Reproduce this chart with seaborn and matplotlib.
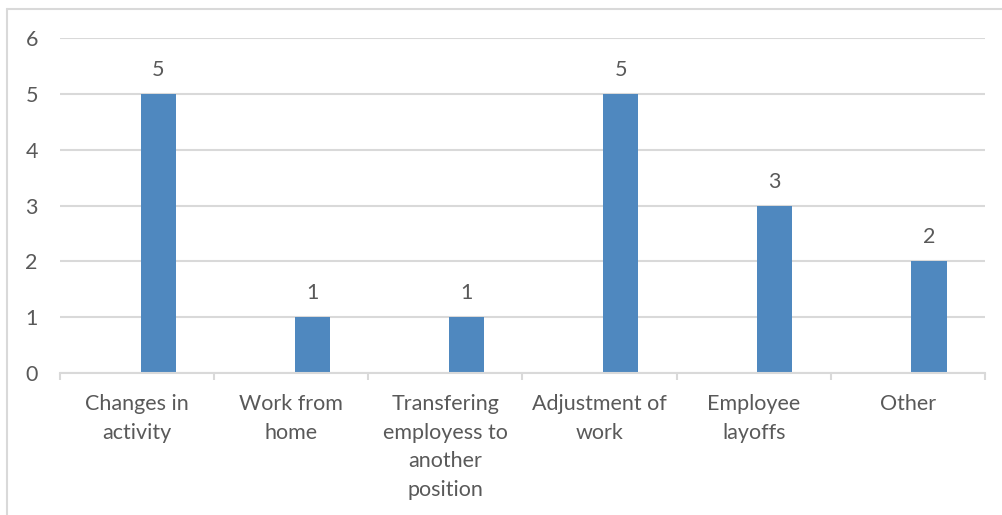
import numpy as np
import matplotlib
matplotlib.use('Agg')
import matplotlib.pyplot as plt
import seaborn as sns
from matplotlib.lines import Line2D

categories = ['Changes in\nactivity', 'Work from\nhome', 'Transfering\nemployess to\nanother\nposition',
              'Adjustment of\nwork', 'Employee\nlayoffs', 'Other']
values = [5, 1, 1, 5, 3, 2]
yticks = [0, 1, 2, 3, 4, 5, 6]

sns.set_style('white')
plt.rcParams['font.family'] = ['Lato', 'DejaVu Sans']

txt = '#595959'
grid = '#D9D9D9'
bar_color = '#4F88BF'
fs = 15.5

fig = plt.figure(figsize=(10.02, 5.15), dpi=100)
ax = fig.add_axes([0.0599, 0.2757, 0.9231, 0.6505])

sns.barplot(x=list(range(len(values))), y=values, color=bar_color, width=0.228,
            saturation=1, ax=ax, zorder=3)
# excel puts the bars right of the category centre
for p in ax.patches:
    p.set_x(p.get_x() + 0.137)
    p.set_edgecolor('none')

for p, v in zip(ax.patches, values):
    ax.annotate(str(v), (p.get_x() + p.get_width() / 2, v), xytext=(0, 10),
                textcoords='offset points', ha='center', va='bottom',
                fontsize=fs, color=txt)

ax.set_xlim(-0.5, len(values) - 0.5)
ax.set_ylim(0, 6)
ax.set_yticks(yticks)
ax.set_yticklabels([str(t) for t in yticks], fontsize=fs, color=txt)
ax.yaxis.grid(True, color=grid, linewidth=1.5, zorder=0)
ax.set_xticks(range(len(categories)))
ax.set_xticklabels(categories, fontsize=fs, color=txt, linespacing=1.55, va='top')
ax.set_xticks(np.arange(-0.5, len(values)), minor=True)
ax.tick_params(axis='x', which='major', length=0, pad=15)
ax.tick_params(axis='x', which='minor', length=5, width=1.5, color=grid, bottom=True)
ax.tick_params(axis='y', length=0, pad=16)
ax.set_xlabel('')
ax.set_ylabel('')

for s in ['top', 'right', 'left']:
    ax.spines[s].set_visible(False)
ax.spines['bottom'].set_color(grid)
ax.spines['bottom'].set_linewidth(1.5)
ax.spines['bottom'].set_zorder(4)

# chart area frame (only top and left show in the crop)
fig.add_artist(Line2D([0.007, 1.0], [0.983, 0.983], color=grid, linewidth=1.5))
fig.add_artist(Line2D([0.007, 0.007], [0.0, 0.983], color=grid, linewidth=1.5))

fig.savefig('out.png', dpi=100)
